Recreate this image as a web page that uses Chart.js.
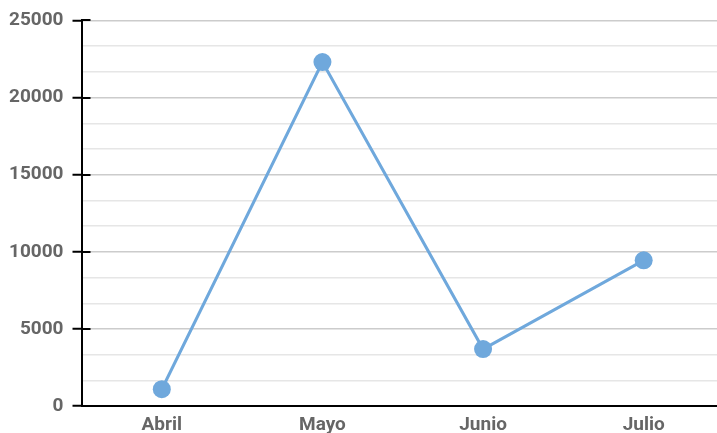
<!DOCTYPE html>
<html lang="es">
<head>
    <meta charset="UTF-8">
    <title>Abril - Julio</title>
    <script src="https://cdn.jsdelivr.net/npm/chart.js"></script>
    <style>
        body { margin: 0; overflow: hidden; background: #fff; }
        #wrap { width: 733px; height: 433px; }
    </style>
</head>
<body>
    <div id="wrap"><canvas id="lineChart"></canvas></div>

    <script>
        // data
        const months = ['Abril', 'Mayo', 'Junio', 'Julio'];
        const amounts = [1100, 22300, 3700, 9450];
        const yMax = 25000;
        const majorStep = 5000;

        const isMajor = v => Math.abs(v / majorStep - Math.round(v / majorStep)) < 1e-6;

        // little black stubs on the inside of the y axis at major ticks
        const innerTicks = {
            id: 'innerTicks',
            afterDraw(chart) {
                const y = chart.scales.y;
                const c = chart.ctx;
                c.save();
                c.strokeStyle = '#000';
                c.lineWidth = 2;
                y.ticks.forEach(t => {
                    if (!isMajor(t.value)) return;
                    const py = Math.round(y.getPixelForValue(t.value));
                    c.beginPath();
                    c.moveTo(y.right, py);
                    c.lineTo(y.right + 9, py);
                    c.stroke();
                });
                c.restore();
            }
        };

        new Chart(document.getElementById('lineChart'), {
            type: 'line',
            data: {
                labels: months,
                datasets: [{
                    data: amounts,
                    borderColor: '#6fa8dc',
                    backgroundColor: '#6fa8dc',
                    borderWidth: 3,
                    pointRadius: 9,
                    pointBorderWidth: 0,
                    pointBackgroundColor: '#6fa8dc',
                    tension: 0,
                    fill: false
                }]
            },
            options: {
                responsive: true,
                maintainAspectRatio: false,
                animation: false,
                layout: { padding: { top: 0, left: 0, right: 0, bottom: -4 } },
                plugins: {
                    legend: { display: false },
                    tooltip: { enabled: false }
                },
                scales: {
                    x: {
                        offset: true,
                        grid: { display: false },
                        border: { display: true, color: '#000', width: 2 },
                        ticks: {
                            color: '#666',
                            padding: 0,
                            font: { family: 'Roboto', size: 19, weight: 'bold' }
                        }
                    },
                    y: {
                        min: 0,
                        max: yMax,
                        afterBuildTicks(scale) {
                            const ticks = [];
                            for (let i = 0; i <= 15; i++) ticks.push({ value: i * yMax / 15 });
                            scale.ticks = ticks;
                        },
                        border: { display: true, color: '#000', width: 2 },
                        grid: {
                            color: ctx => isMajor(ctx.tick.value) ? '#cccccc' : '#e6e6e6',
                            lineWidth: 1.5,
                            tickColor: ctx => isMajor(ctx.tick.value) ? '#000' : 'rgba(0,0,0,0)',
                            tickLength: 9,
                            tickWidth: 2
                        },
                        ticks: {
                            autoSkip: false,
                            color: '#666',
                            padding: 9,
                            font: { family: 'Roboto', size: 19, weight: 'bold' },
                            callback: v => isMajor(v) ? Math.round(v) : ''
                        }
                    }
                }
            },
            plugins: [innerTicks]
        });
    </script>
</body>
</html>
